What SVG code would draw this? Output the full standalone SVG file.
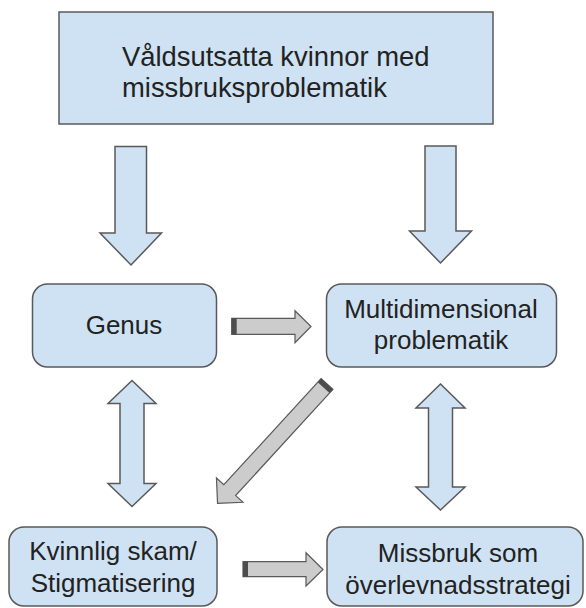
<svg xmlns="http://www.w3.org/2000/svg" width="586" height="608" viewBox="0 0 586 608">
<style>
.box{fill:#cfe2f3;stroke:#595959;stroke-width:1.5}
.barrow{fill:#cfe2f3;stroke:#595959;stroke-width:1.5;stroke-linejoin:miter}
.garrow{fill:#cccccc;stroke:#595959;stroke-width:1.2}
.cap{fill:#4d4d4d}
text{font-family:"Liberation Sans",Arial,sans-serif;fill:#222222;font-size:26px}
.c{text-anchor:middle}
</style>
<rect width="586" height="608" fill="#ffffff"/>
<g id="node-top">
<rect class="box" x="59" y="12" width="434" height="112"/>
<text x="122" y="66" style="font-size:27.4px">Våldsutsatta kvinnor med</text>
<text x="122" y="97" style="font-size:27.4px">missbruksproblematik</text>
</g>
<g id="node-genus">
<rect class="box" x="32.5" y="284" width="184" height="83" rx="15"/>
<text class="c" x="124" y="334">Genus</text>
</g>
<g id="node-multi">
<rect class="box" x="326.5" y="284" width="230" height="83" rx="15"/>
<text class="c" x="441" y="318">Multidimensional</text>
<text class="c" x="441" y="349">problematik</text>
</g>
<g id="node-skam">
<rect class="box" x="9" y="527" width="208" height="79" rx="15"/>
<text class="c" x="113" y="560">Kvinnlig skam/</text>
<text class="c" x="113" y="592">Stigmatisering</text>
</g>
<g id="node-missbruk">
<rect class="box" x="327" y="527" width="256" height="79" rx="15"/>
<text class="c" x="458" y="562">Missbruk som</text>
<text class="c" x="458" y="594">överlevnadsstrategi</text>
</g>
<g id="connectors">
<polygon class="barrow" points="115,146.5 146.5,146.5 146.5,233 161.5,233 131,265 100,233 115,233"/>
<polygon class="barrow" points="425,146 456,146 456,231 471.5,231 440.5,263 409.5,231 425,231"/>
<polygon class="barrow" points="132,380.5 156,403.5 144,403.5 144,483.5 156,483.5 132,506.5 108,483.5 120,483.5 120,403.5 108,403.5"/>
<polygon class="barrow" points="440.5,384 465,408 452.5,408 452.5,487 465,487 440.5,510 416,487 428.5,487 428.5,408 416,408"/>
<polygon class="garrow" points="231.7,318.3 295,318.3 295,310.7 311,326.5 295,342.7 295,334.3 231.7,334.3"/>
<rect class="cap" x="231.7" y="318.3" width="5" height="16"/>
<polygon class="garrow" points="243,561.7 306,561.7 306,552.7 323,569.5 306,586 306,576.7 243,576.7"/>
<rect class="cap" x="243" y="561.7" width="5" height="15"/>
<g transform="translate(327,384) rotate(132.5)">
<polygon class="garrow" points="0,-8 144,-8 144,-18 162,0 144,18 144,8 0,8"/>
<rect class="cap" x="0" y="-8" width="5" height="16"/>
</g>
</g>
</svg>
